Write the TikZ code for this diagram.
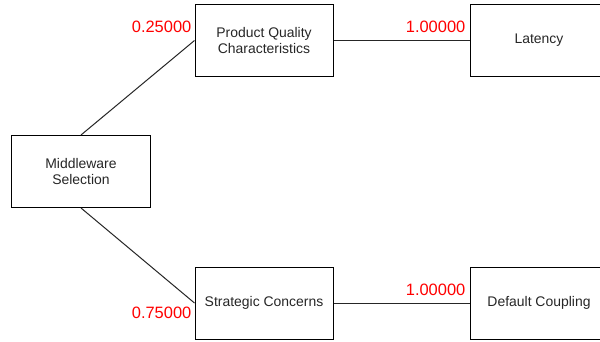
\documentclass[tikz,border=0pt]{standalone}
\usepackage{fontspec}
\setmainfont{Liberation Sans}
\begin{document}
\begin{tikzpicture}[x=1bp,y=-1bp,
  box/.style={draw=black,line width=1bp,minimum width=138bp,minimum height=72bp,
    align=center,inner sep=0pt,font=\fontsize{14}{17}\selectfont,text=black!85},
  link/.style={draw=black!85,line width=1bp},
  weight/.style={text=red,font=\fontsize{16.5}{18}\selectfont,inner sep=0pt,anchor=east}]
\useasboundingbox (0,0) rectangle (600,341);
\clip (0,0) rectangle (600,341);
\fill[white] (0,0) rectangle (600,341);
% decision tree nodes
\node[box] (mw) at (81,171.5) {Middleware\\Selection};
\node[box] (pq) at (264,40.5) {Product Quality\\Characteristics};
\node[box] (sc) at (264,303) {Strategic Concerns};
\node[box] (lat) at (539,40.5) {Latency};
\node[box] (dc) at (539,303) {Default Coupling};
% connectors
\draw[link] (mw.north) -- (pq.west);
\draw[link] (mw.south) -- (sc.west);
\draw[link] (pq.east) -- (lat.west);
\draw[link] (sc.east) -- (dc.west);
% weights
\node[weight] (w1) at (191.5,27) {0.25000};
\node[weight] (w2) at (191.5,313) {0.75000};
\node[weight] (w3) at (465.5,27) {1.00000};
\node[weight] (w4) at (465.5,290) {1.00000};
\end{tikzpicture}
\end{document}
